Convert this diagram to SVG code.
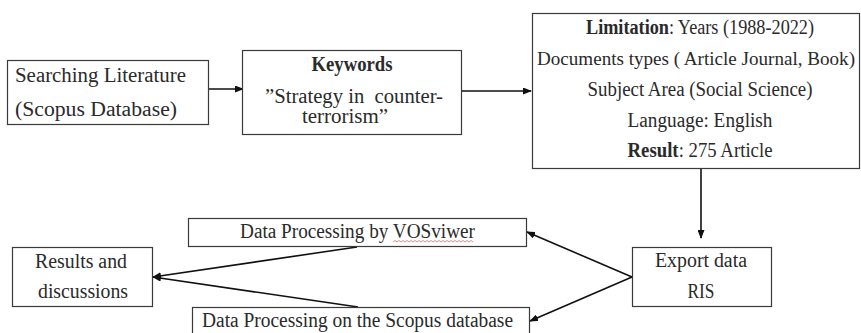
<svg xmlns="http://www.w3.org/2000/svg" width="861" height="333" viewBox="0 0 861 333">
<style>
  .box { fill: #ffffff; stroke: #3a3a3a; stroke-width: 1.2; }
  .t { font-family: "Liberation Serif", "Times New Roman", serif; font-size: 20px; fill: #2a2a2a; white-space: pre; }
  .c { text-anchor: middle; }
  .b { font-weight: bold; }
  .edge { stroke: #111111; stroke-width: 1.6; fill: none; marker-end: url(#ah); }
</style>
<defs>
  <marker id="ah" markerUnits="userSpaceOnUse" markerWidth="9" markerHeight="7" refX="8" refY="3.5" orient="auto">
    <path d="M0,0 L9,3.5 L0,7 z" fill="#111111"/>
  </marker>
</defs>
<rect width="861" height="333" fill="#ffffff"/>

<g id="connectors">
  <line class="edge" x1="209" y1="89" x2="243" y2="89"/>
  <line class="edge" x1="462" y1="91" x2="531" y2="91"/>
  <line class="edge" x1="701" y1="169" x2="701" y2="238"/>
  <line class="edge" x1="632" y1="277" x2="527" y2="232"/>
  <line class="edge" x1="632" y1="277" x2="530" y2="321"/>
  <line class="edge" x1="357" y1="247" x2="153" y2="277"/>
  <line class="edge" x1="358" y1="307" x2="153" y2="277"/>
</g>

<g id="searching">
  <rect class="box" x="7.5" y="60.5" width="201" height="64"/>
  <text class="t" x="15" y="82" textLength="171" lengthAdjust="spacingAndGlyphs">Searching Literature</text>
  <text class="t" x="15" y="116" textLength="162" lengthAdjust="spacingAndGlyphs">(Scopus Database)</text>
</g>

<g id="keywords">
  <rect class="box" x="242.5" y="50.5" width="219" height="84"/>
  <text class="t c b" x="352" y="71" textLength="81" lengthAdjust="spacingAndGlyphs">Keywords</text>
  <text class="t c" x="354" y="102.5" textLength="178" lengthAdjust="spacingAndGlyphs" xml:space="preserve">”Strategy in  counter-</text>
  <text class="t c" x="345" y="123" textLength="86" lengthAdjust="spacingAndGlyphs">terrorism”</text>
</g>

<g id="limitation">
  <rect class="box" x="532.5" y="13.5" width="327" height="155"/>
  <text class="t c" x="700" y="34" textLength="228" lengthAdjust="spacingAndGlyphs"><tspan class="b">Limitation</tspan>: Years (1988-2022)</text>
  <text class="t c" x="696" y="65" style="font-size:18.5px" textLength="318" lengthAdjust="spacingAndGlyphs">Documents types ( Article Journal, Book)</text>
  <text class="t c" x="700" y="96" textLength="225" lengthAdjust="spacingAndGlyphs">Subject Area (Social Science)</text>
  <text class="t c" x="700" y="127" textLength="145" lengthAdjust="spacingAndGlyphs">Language: English</text>
  <text class="t c" x="700" y="157" textLength="145" lengthAdjust="spacingAndGlyphs"><tspan class="b">Result</tspan>: 275 Article</text>
</g>

<g id="export">
  <rect class="box" x="632.5" y="247.5" width="139" height="59"/>
  <text class="t c" x="701" y="267" textLength="92" lengthAdjust="spacingAndGlyphs">Export data</text>
  <text class="t c" x="701" y="297.5" textLength="27" lengthAdjust="spacingAndGlyphs">RIS</text>
</g>

<g id="vosviewer">
  <rect class="box" x="188.5" y="218.5" width="338" height="28"/>
  <text class="t c" x="357.5" y="237.5" textLength="235" lengthAdjust="spacingAndGlyphs">Data Processing by VOSviwer</text>
  <path d="M393,242 l2,-1.5 l2,1.5 l2,-1.5 l2,1.5 l2,-1.5 l2,1.5 l2,-1.5 l2,1.5 l2,-1.5 l2,1.5 l2,-1.5 l2,1.5 l2,-1.5 l2,1.5 l2,-1.5 l2,1.5 l2,-1.5 l2,1.5 l2,-1.5 l2,1.5 l2,-1.5 l2,1.5 l2,-1.5 l2,1.5 l2,-1.5 l2,1.5 l2,-1.5 l2,1.5 l2,-1.5 l2,1.5 l2,-1.5 l2,1.5 l2,-1.5 l2,1.5 l2,-1.5 l2,1.5 l2,-1.5 l2,1.5 l2,-1.5 l2,1.5" fill="none" stroke="#e07070" stroke-width="0.8"/>
</g>

<g id="scopus">
  <rect class="box" x="192.5" y="307.5" width="337" height="40"/>
  <text class="t c" x="357.5" y="327" textLength="311" lengthAdjust="spacingAndGlyphs">Data Processing on the Scopus database</text>
</g>

<g id="results">
  <rect class="box" x="12.5" y="247.5" width="140" height="59"/>
  <text class="t c" x="81" y="267.5" textLength="92" lengthAdjust="spacingAndGlyphs">Results and</text>
  <text class="t c" x="83" y="298" textLength="90" lengthAdjust="spacingAndGlyphs">discussions</text>
</g>
</svg>
